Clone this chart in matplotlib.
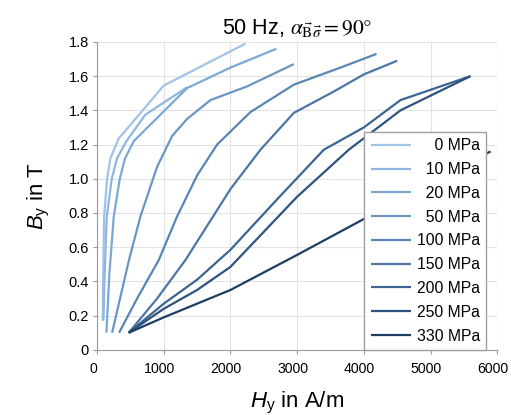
import matplotlib.pyplot as plt
import matplotlib.transforms as mtransforms
from matplotlib.ticker import FuncFormatter

plt.rcParams['font.family'] = ['Liberation Sans', 'DejaVu Sans']
plt.rcParams['mathtext.fontset'] = 'custom'
plt.rcParams['mathtext.rm'] = 'Liberation Sans'
plt.rcParams['mathtext.it'] = 'Liberation Sans:italic'

# B-H curves, 50 Hz, alpha = 90 deg
# figure spaces keep the legend labels right aligned
labels = ['\u2007\u20070 MPa', '\u200710 MPa', '\u200720 MPa', '\u200750 MPa',
          '100 MPa', '150 MPa', '200 MPa', '250 MPa', '330 MPa']

H_0 = [85, 90, 105, 150, 200, 325, 1000, 2224]
B_0 = [0.17, 0.40, 0.78, 1.00, 1.12, 1.235, 1.545, 1.79]

H_10 = [95, 110, 145, 220, 300, 440, 725, 1350]
B_10 = [0.17, 0.40, 0.78, 1.00, 1.12, 1.22, 1.375, 1.535]

H_20 = [140, 185, 250, 340, 420, 550, 1350, 2000, 2690]
B_20 = [0.10, 0.45, 0.78, 1.00, 1.12, 1.22, 1.53, 1.65, 1.76]

H_50 = [225, 475, 650, 900, 1125, 1350, 1700, 2250, 2950]
B_50 = [0.10, 0.52, 0.78, 1.07, 1.25, 1.35, 1.46, 1.54, 1.67]

H_100 = [330, 600, 925, 1200, 1500, 1800, 2300, 2950, 3650, 4190]
B_100 = [0.10, 0.30, 0.525, 0.78, 1.02, 1.20, 1.39, 1.55, 1.65, 1.73]

H_150 = [475, 900, 1325, 2000, 2450, 2950, 3550, 4000, 4500]
B_150 = [0.10, 0.30, 0.525, 0.94, 1.17, 1.385, 1.51, 1.61, 1.69]

H_200 = [475, 1000, 1500, 2000, 2700, 3400, 4000, 4550, 5600]
B_200 = [0.10, 0.27, 0.41, 0.585, 0.88, 1.17, 1.30, 1.46, 1.60]

H_250 = [475, 1000, 1500, 2000, 3000, 3775, 4550, 5600]
B_250 = [0.10, 0.24, 0.35, 0.485, 0.895, 1.17, 1.40, 1.60]

H_330 = [475, 1000, 1500, 2000, 3000, 4025, 5900]
B_330 = [0.10, 0.19, 0.27, 0.35, 0.555, 0.77, 1.16]

H_all = [H_0, H_10, H_20, H_50, H_100, H_150, H_200, H_250, H_330]
B_all = [B_0, B_10, B_20, B_50, B_100, B_150, B_200, B_250, B_330]

colors = ['#9fc4e8', '#8db7e0', '#7ca8d5', '#6a96c4', '#5a86b5',
          '#4b76a6', '#3c6593', '#2d537e', '#1d3d63']

fig = plt.figure(figsize=(5.11, 4.15), dpi=100)
ax = fig.add_axes([0.19, 0.157, 0.783, 0.742])

for H, B, c, lab in zip(H_all, B_all, colors, labels):
    ax.plot(H, B, color=c, lw=1.6, label=lab, solid_capstyle='butt')

ax.set_xlim(0, 6000)
ax.set_ylim(0, 1.8)
ax.set_xticks(range(0, 6001, 1000))
ax.set_yticks([i * 0.2 for i in range(10)])
ax.yaxis.set_major_formatter(FuncFormatter(lambda v, p: '0' if v == 0 else f'{v:.1f}'))
ax.grid(True, color='#e3e3e3', lw=0.8)
ax.set_axisbelow(True)
for s in ['top', 'right']:
    ax.spines[s].set_visible(False)
for s in ['left', 'bottom']:
    ax.spines[s].set_color('#9a9a9a')
ax.tick_params(labelsize=10.5, length=3, color='#9a9a9a', pad=3)
ax.tick_params(axis='x', labelsize=10.2, pad=6)

# x tick labels sit a little to the left of their ticks in the original
shift = mtransforms.ScaledTranslation(-3 / 72, 0, fig.dpi_scale_trans)
for lbl in ax.get_xticklabels():
    lbl.set_transform(lbl.get_transform() + shift)

ax.set_xlabel(r'$H_\mathrm{y}$ in A/m', fontsize=16, labelpad=10)
ax.set_ylabel(r'$B_\mathrm{y}$ in T', fontsize=16, labelpad=12)
ax.set_title(r'50 Hz, $\alpha_{\vec{\mathrm{B}}\vec{\sigma}} = 90°$', fontsize=15.5, pad=6,
             math_fontfamily='stix')

leg = ax.legend(loc='lower right', bbox_to_anchor=(0.973, 0.0), borderaxespad=0,
                fontsize=11.3, fancybox=False, edgecolor='#a0a0a0',
                handlelength=2.6, handletextpad=0.35, labelspacing=0.56,
                borderpad=0.4, framealpha=1)
leg.get_frame().set_linewidth(1.0)

fig.savefig('out.png', dpi=100)
